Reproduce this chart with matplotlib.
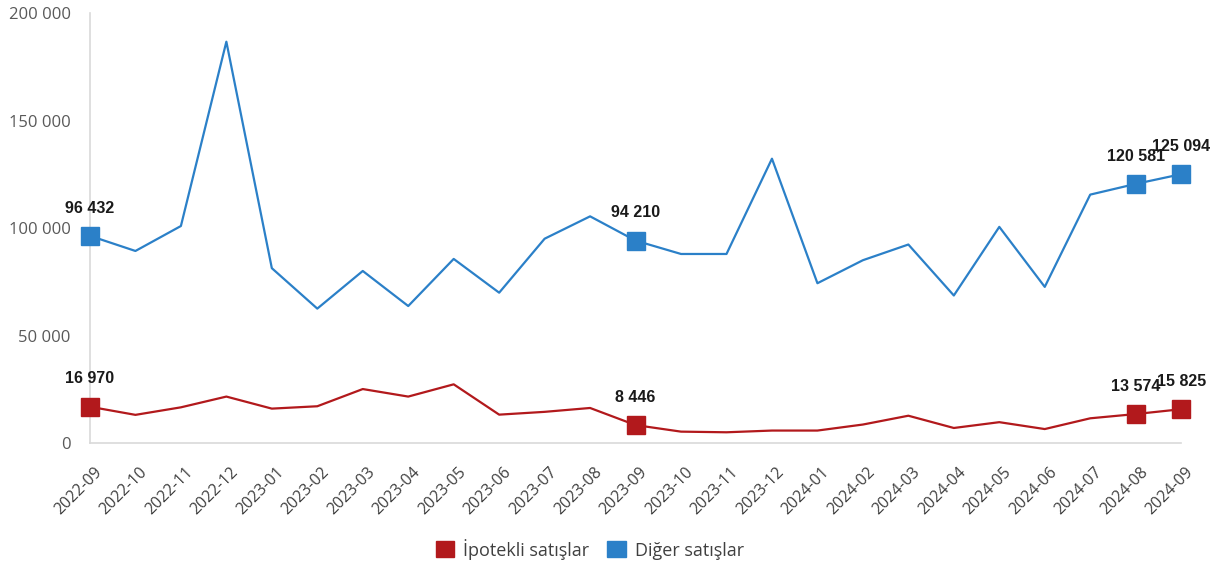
import matplotlib.pyplot as plt
from matplotlib.patches import Patch
from matplotlib.transforms import ScaledTranslation

months = ['2022-09', '2022-10', '2022-11', '2022-12', '2023-01', '2023-02', '2023-03',
          '2023-04', '2023-05', '2023-06', '2023-07', '2023-08', '2023-09', '2023-10',
          '2023-11', '2023-12', '2024-01', '2024-02', '2024-03', '2024-04', '2024-05',
          '2024-06', '2024-07', '2024-08', '2024-09']
ipotekli = [16970, 13200, 16700, 21700, 16100, 17200, 25200, 21700, 27400, 13300, 14600,
            16400, 8446, 5400, 5100, 5900, 5900, 8700, 12800, 7100, 9800, 6600, 11600,
            13574, 15825]
diger = [96432, 89400, 101000, 186700, 81400, 62600, 80100, 63800, 85700, 70000, 95100,
         105500, 94210, 88000, 88000, 132300, 74400, 85100, 92400, 68700, 100600, 72700,
         115600, 120581, 125094]
labelled = [0, 12, 23, 24]

red = '#b2191c'
blue = '#2b80c8'

def fmt(v):
    return f'{v:,}'.replace(',', ' ')

fig = plt.figure(figsize=(12.24, 5.69), dpi=100)
ax = fig.add_axes([0.0735, 0.221, 0.8915, 0.756])

x = range(len(months))
ax.plot(x, diger, color=blue, lw=1.6, clip_on=False)
ax.plot(x, ipotekli, color=red, lw=1.6, clip_on=False)

for i in labelled:
    ax.plot(i, diger[i], marker='s', ms=13, color=blue, clip_on=False, zorder=5)
    ax.plot(i, ipotekli[i], marker='s', ms=13, color=red, clip_on=False, zorder=5)
    for v in (diger[i], ipotekli[i]):
        ax.annotate(fmt(v), (i, v), xytext=(0, 20), textcoords='offset points',
                    ha='center', va='center', fontsize=11.5, fontweight='bold',
                    family='Liberation Sans', color='#1a1a1a')

ax.set_xlim(0, len(months) - 1)
ax.set_ylim(0, 200000)
ax.set_yticks(range(0, 200001, 50000))
ax.set_yticklabels([fmt(v) for v in range(0, 200001, 50000)],
                   fontsize=12, color='#595959', family='Open Sans')
ax.set_xticks(list(x))
ax.set_xticklabels(months, rotation=45, ha='right', rotation_mode='anchor',
                   fontsize=11.5, color='#404040', family='Open Sans')
ax.tick_params(length=0)
ax.tick_params(axis='y', pad=14)
ax.tick_params(axis='x', pad=15)

# nudge the rotated month labels a little to the right
shift = ScaledTranslation(4 / 100, 0, fig.dpi_scale_trans)
for lbl in ax.get_xticklabels():
    lbl.set_transform(lbl.get_transform() + shift)

for s in ['top', 'right']:
    ax.spines[s].set_visible(False)
ax.spines['left'].set_color('#d9d9d9')
ax.spines['bottom'].set_color('#d9d9d9')
ax.spines['left'].set_linewidth(1.2)
ax.spines['bottom'].set_linewidth(1.2)

handles = [Patch(color=red, label='İpotekli satışlar'),
           Patch(color=blue, label='Diğer satışlar')]
fig.legend(handles=handles, loc='center', bbox_to_anchor=(0.482, 0.035), ncol=2,
           frameon=False, prop={'family': 'Open Sans', 'size': 13},
           handlelength=1.0, handleheight=1.0, handletextpad=0.5, columnspacing=1.0,
           labelcolor='#404040')

fig.savefig('out.png', dpi=100)
